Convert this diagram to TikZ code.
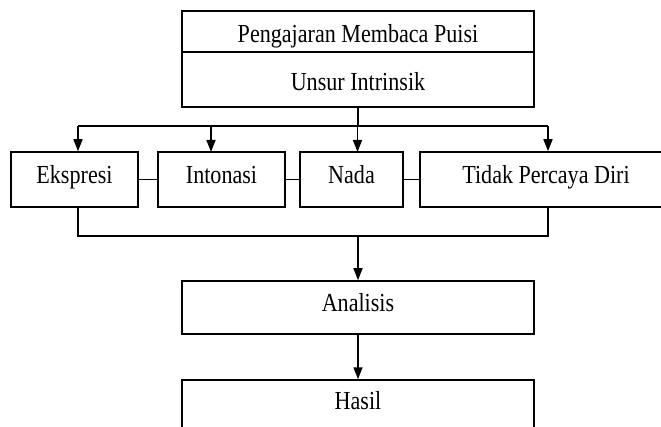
\documentclass[tikz,border=0pt]{standalone}
\usepackage{fontspec}
\setmainfont{Liberation Serif}[FakeStretch=0.85]
\usepackage{tikz}
\usetikzlibrary{
	arrows.meta,
	positioning,
	calc
}
\tikzset{
  % arrow
	cstra/.style      ={-{Triangle[width=9pt,length=12pt]}, line width=1.5pt}, % down arrow
	cstline/.style    ={line width=1.5pt}, % plain connector
  % node
	cstnode/.style    ={draw=black,fill=white,text=black,line width=1.5pt,inner sep=0pt,
	                    text height=15pt,text depth=7pt,
	                    font=\fontsize{26}{30}\selectfont},
	csttop/.style     ={cstnode,text height=22pt,text depth=0pt} % title box
}
\begin{document}
\begin{tikzpicture}[x=1pt,y=-1pt]
			\clip (0,0) rectangle (661,427);
			\node[csttop,minimum width=352pt,minimum height=41pt] (pengajaran) at (358,31.5) {Pengajaran Membaca Puisi};
			\node[csttop,minimum width=352pt,minimum height=55pt] (unsur) at (358,79.5) {Unsur Intrinsik};
			\node[cstnode,minimum width=127pt,minimum height=55pt] (ekspresi) at (74.5,179.5) {Ekspresi};
			\node[cstnode,minimum width=127pt,minimum height=55pt] (intonasi) at (221.5,179.5) {Intonasi};
			\node[cstnode,minimum width=103pt,minimum height=55pt] (nada) at (351.5,179.5) {Nada};
			\node[cstnode,minimum width=256pt,minimum height=55pt] (tidak) at (548,179.5) {\hspace*{-4pt}Tidak Percaya Diri};
			\node[cstnode,minimum width=352pt,minimum height=53pt] (analisis) at (358,307.5) {Analisis};
			\node[cstnode,minimum width=352pt,minimum height=50pt] (hasil) at (358,405) {Hasil};
			\coordinate (busl) at (78,126);
			\coordinate (busr) at (548,126);
			\coordinate (joinl) at (78,236);
			\coordinate (joinr) at (548,236);
			\coordinate (joinm) at (358,236);
			\draw[cstline] (unsur.south) -- (unsur.south |- busl);
			\draw[cstline] (busl) -- (busr);
			\draw[cstra] (busl) -- (busl |- ekspresi.north);
			\draw[cstra] (211,126) -- (211,152);
			\draw[cstra] (357.5,126) -- (357.5,152);
			\draw[cstra] (busr) -- (busr |- tidak.north);
			\draw[cstline] (ekspresi.east) -- (intonasi.west);
			\draw[cstline] (intonasi.east) -- (nada.west);
			\draw[cstline] (nada.east) -- (tidak.west);
			\draw[cstline] (joinl |- ekspresi.south) -- (joinl) -- (joinr) -- (joinr |- tidak.south);
			\draw[cstra] (joinm) -- (analisis.north);
			\draw[cstra] (analisis.south) -- (hasil.north);
		\end{tikzpicture}
\end{document}
